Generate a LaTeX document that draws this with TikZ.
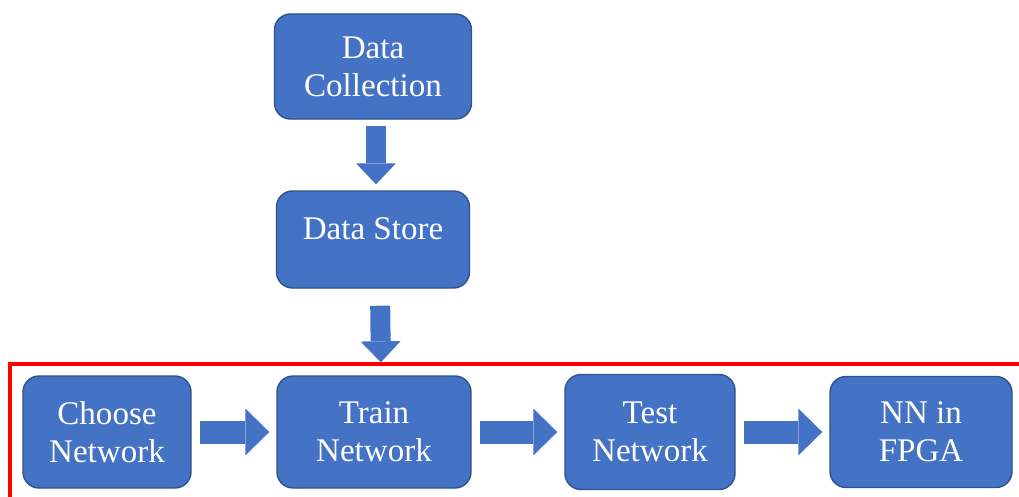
\documentclass[tikz,border=0pt]{standalone}
\usepackage{fontspec}
\setmainfont{Liberation Serif}
\newfontfamily\stagefont{Liberation Serif}
\usepackage{tikz}
\usetikzlibrary{arrows.meta, positioning}

\definecolor{boxblue}{HTML}{4472C4}
\definecolor{boxedge}{HTML}{2F528F}

\tikzset{
    stage/.style={draw=boxedge, line width=0.8pt, fill=boxblue, rounded corners=0.32cm,
        text=white, align=center, inner sep=0pt, font=\stagefont\fontsize{18.8}{21.6}\selectfont},
    downarrow/.style={draw=boxblue, line width=0.4cm,
        -{Triangle[length=0.42cm, width=0.8cm, line width=0pt]}},
    rightarrow/.style={draw=boxblue, line width=0.46cm,
        -{Triangle[length=0.48cm, width=0.94cm, line width=0pt]},
        shorten <=0.16cm, shorten >=0.14cm}
}

\begin{document}
\begin{tikzpicture}
                    \useasboundingbox (0,0) rectangle (20.38,9.92);
                    \clip (0,0) rectangle (20.38,9.92);

                    % red frame round the lower row
                    \draw[red, line width=0.08cm] (0.2,-0.5) |- (20.8,2.64);

                    \node[stage, minimum width=3.94cm, minimum height=2.10cm] (coll) at (7.46, 8.59) {Data\\Collection};
                    \node[stage, minimum width=3.86cm, minimum height=1.94cm, text depth=0.44cm] (store) at (7.46, 5.13) {Data Store};

                    \node[stage, minimum width=3.36cm, minimum height=2.24cm] (choose) at (2.14, 1.28) {Choose\\Network};
                    \node[stage, minimum width=3.88cm, minimum height=2.24cm] (train) at (7.48, 1.28) {Train\\Network};
                    \node[stage, minimum width=3.40cm, minimum height=2.30cm] (test) at (13.00, 1.28) {Test\\Network};
                    \node[stage, minimum width=3.64cm, minimum height=2.22cm] (nn) at (18.42, 1.28) {NN in\\FPGA};

                    \draw[downarrow, shorten <=0.12cm, shorten >=0.12cm] ([xshift=0.06cm]coll.south) -- ([xshift=0.06cm]store.north);
                    \draw[downarrow, shorten <=0.34cm, shorten >=0.26cm] ([xshift=0.14cm]store.south) -- ([xshift=0.14cm]train.north);

                    \foreach \a/\b in {choose/train, train/test, test/nn}
                        \draw[rightarrow] (\a) -- (\b);
                \end{tikzpicture}
\end{document}
